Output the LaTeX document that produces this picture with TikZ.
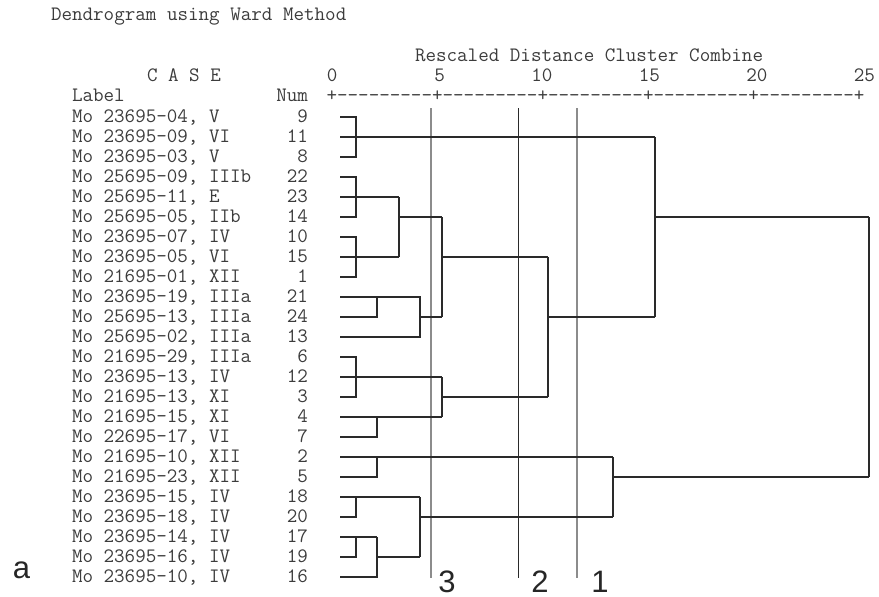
\documentclass[tikz,border=0pt]{standalone}
\usepackage{fontspec}
\newfontfamily\labelfont{Liberation Sans}
\definecolor{txt}{HTML}{3C3C3C}
\definecolor{branch}{HTML}{2A2A2A}
\definecolor{cutgray}{HTML}{8C8C8C}
\begin{document}
\begin{tikzpicture}[x=1pt,y=-1pt,
  every node/.style={inner sep=0pt, outer sep=0pt},
  mono/.style={font=\ttfamily\fontsize{20.48}{22}\selectfont, text=txt},
  link/.style={draw=branch, line width=1.3pt, line join=miter},
  cutlight/.style={draw=cutgray, line width=1.5pt},
  cutdark/.style={draw=branch, line width=1pt},
  bigsans/.style={font=\labelfont\fontsize{31}{33}\selectfont, text=black!85}]
\useasboundingbox (0,0) rectangle (879,597);

% headings
\node[mono, anchor=base west] (title) at (51,20) {Dendrogram using Ward Method};
\node[mono, anchor=base west] (scaletitle) at (415,61) {Rescaled Distance Cluster Combine};
\node[mono, anchor=base west] (casehead) at (147,81) {C A S E};
\node[mono, anchor=base west] (labelhead) at (72,101) {Label};
\node[mono, anchor=base east] (numhead) at (308,101) {Num};

% distance axis
\node[mono, anchor=base west] (axis) at (326.6,101) {+---------+---------+---------+---------+---------+};
\foreach \v [count=\k from 0] in {0,5,10,15,20,25}
  \node[mono, anchor=base east] (tick\k) at ({332+107.5*\k+5.4},81) {\v};

% case labels and numbers
\foreach \lab/\num [count=\i from 0] in {
  {Mo 23695-04, V}/9, {Mo 23695-09, VI}/11, {Mo 23695-03, V}/8,
  {Mo 25695-09, IIIb}/22, {Mo 25695-11, E}/23, {Mo 25695-05, IIb}/14,
  {Mo 23695-07, IV}/10, {Mo 23695-05, VI}/15, {Mo 21695-01, XII}/1,
  {Mo 23695-19, IIIa}/21, {Mo 25695-13, IIIa}/24, {Mo 25695-02, IIIa}/13,
  {Mo 21695-29, IIIa}/6, {Mo 23695-13, IV}/12, {Mo 21695-13, XI}/3,
  {Mo 21695-15, XI}/4, {Mo 22695-17, VI}/7, {Mo 21695-10, XII}/2,
  {Mo 21695-23, XII}/5, {Mo 23695-15, IV}/18, {Mo 23695-18, IV}/20,
  {Mo 23695-14, IV}/17, {Mo 23695-16, IV}/19, {Mo 23695-10, IV}/16} {
  \node[mono, anchor=base west] (lab\i) at (72,{122+20*\i}) {\lab};
  \node[mono, anchor=base east] (num\i) at (308,{122+20*\i}) {\num};
  \coordinate (r\i) at (340,{117+20*\i});
}

% merge columns
\coordinate (c1) at (356,0);
\coordinate (c2) at (377,0);
\coordinate (c3) at (399,0);
\coordinate (c4) at (420,0);
\coordinate (c5) at (442,0);
\coordinate (c6) at (548,0);
\coordinate (c7) at (613,0);
\coordinate (c8) at (655,0);
\coordinate (c9) at (869,0);

% cut levels
\coordinate (cut3a) at (431,108); \coordinate (cut3b) at (431,578);
\coordinate (cut2a) at (518,108); \coordinate (cut2b) at (518,578);
\coordinate (cut1a) at (577,108); \coordinate (cut1b) at (577,578);
\draw[cutlight] (cut3a) -- (cut3b);
\draw[cutdark] (cut2a) -- (cut2b);
\draw[cutlight] (cut1a) -- (cut1b);

% cases 9, 11, 8
\draw[link] (r0) -| (c1|-r2) -- (r2);
\draw[link] (r1) -- (c8|-r1);
% cases 22, 23, 14
\draw[link] (r3) -| (c1|-r5) -- (r5);
\draw[link] (r4) -- (c3|-r4);
% cases 10, 15, 1
\draw[link] (r6) -| (c1|-r8) -- (r8);
\draw[link] (r7) -- (c3|-r7);
\draw[link] (c3|-r4) -- (c3|-r7);
\draw[link] (c3|-r5) -- (c5|-r5);
% cases 21, 24, 13
\draw[link] (r9) -- (c4|-r9) -- (c4|-r11) -- (r11);
\draw[link] (r10) -| (c2|-r9);
\draw[link] (c4|-r10) -- (c5|-r10);
\draw[link] (c5|-r5) -- (c5|-r10);
\draw[link] (c5|-r7) -- (c6|-r7);
% cases 6, 12, 3
\draw[link] (r12) -| (c1|-r14) -- (r14);
\draw[link] (r13) -- (c5|-r13);
% cases 4, 7
\draw[link] (r15) -- (c5|-r15);
\draw[link] (r16) -| (c2|-r15);
\draw[link] (c5|-r13) -- (c5|-r15);
\draw[link] (c5|-r14) -- (c6|-r14);
\draw[link] (c6|-r7) -- (c6|-r14);
\draw[link] (c6|-r10) -- (c8|-r10);
\draw[link] (c8|-r1) -- (c8|-r10);
\draw[link] (c8|-r5) -- (c9|-r5);
% cases 2, 5
\draw[link] (r17) -- (c7|-r17);
\draw[link] (r18) -| (c2|-r17);
% cases 18, 20
\draw[link] (r19) -- (c4|-r19);
\draw[link] (r20) -| (c1|-r19);
% cases 17, 19, 16
\draw[link] (r21) -- (c2|-r21);
\draw[link] (r22) -| (c1|-r21);
\draw[link] (r23) -| (c2|-r21);
\draw[link] (c2|-r22) -- (c4|-r22);
\draw[link] (c4|-r19) -- (c4|-r22);
\draw[link] (c4|-r20) -- (c7|-r20);
\draw[link] (c7|-r17) -- (c7|-r20);
\draw[link] (c7|-r18) -- (c9|-r18);
% root
\draw[link] (c9|-r5) -- (c9|-r18);

% cut labels and panel letter
\node[bigsans, anchor=base] (cut3lbl) at (447,592) {3};
\node[bigsans, anchor=base] (cut2lbl) at (540,592) {2};
\node[bigsans, anchor=base] (cut1lbl) at (600,592) {1};
\node[bigsans, anchor=base] (panel) at (21.5,578) {a};
\end{tikzpicture}
\end{document}
